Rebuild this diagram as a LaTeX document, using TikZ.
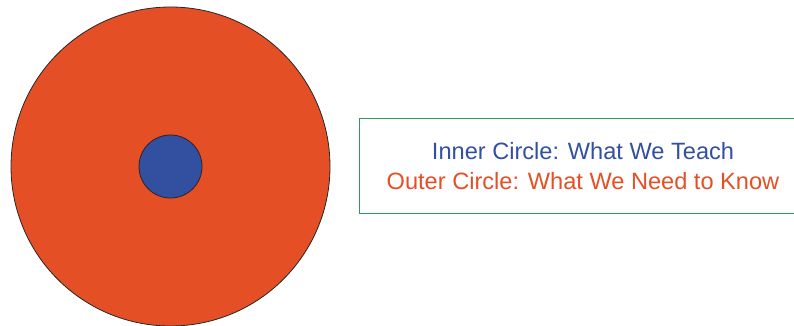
\documentclass[tikz,border=0pt]{standalone}
\usepackage{fontspec}
\setmainfont{Liberation Sans}
\definecolor{outerc}{HTML}{E54F25}
\definecolor{innerc}{HTML}{3350A0}
\definecolor{boxc}{HTML}{2E9A5E}
\begin{document}
\begin{tikzpicture}[x=1pt,y=-1pt,
  disc/.style={draw=black!85,line width=0.8pt},
  legendtext/.style={font=\fontsize{23.6}{28}\selectfont,anchor=base,inner sep=0pt}]
\useasboundingbox (0,0) rectangle (794,326);
\begin{scope}
\clip (0,0) rectangle (794,326);
\fill[outerc,draw=black!85,line width=0.8pt] (170.5,166.5) circle[radius=159.5];
\node[disc,fill=innerc,circle,minimum size=63pt,inner sep=0pt] (inner) at (170.5,166.5) {};
\draw[boxc,line width=1pt] (359.5,118.5) rectangle (800,213);
\end{scope}
\node[legendtext,text=innerc] (l1) at (583,159) {Inner Circle: What We Teach};
\node[legendtext,text=outerc] (l2) at (583,189) {Outer Circle: What We Need to Know};
\end{tikzpicture}
\end{document}
